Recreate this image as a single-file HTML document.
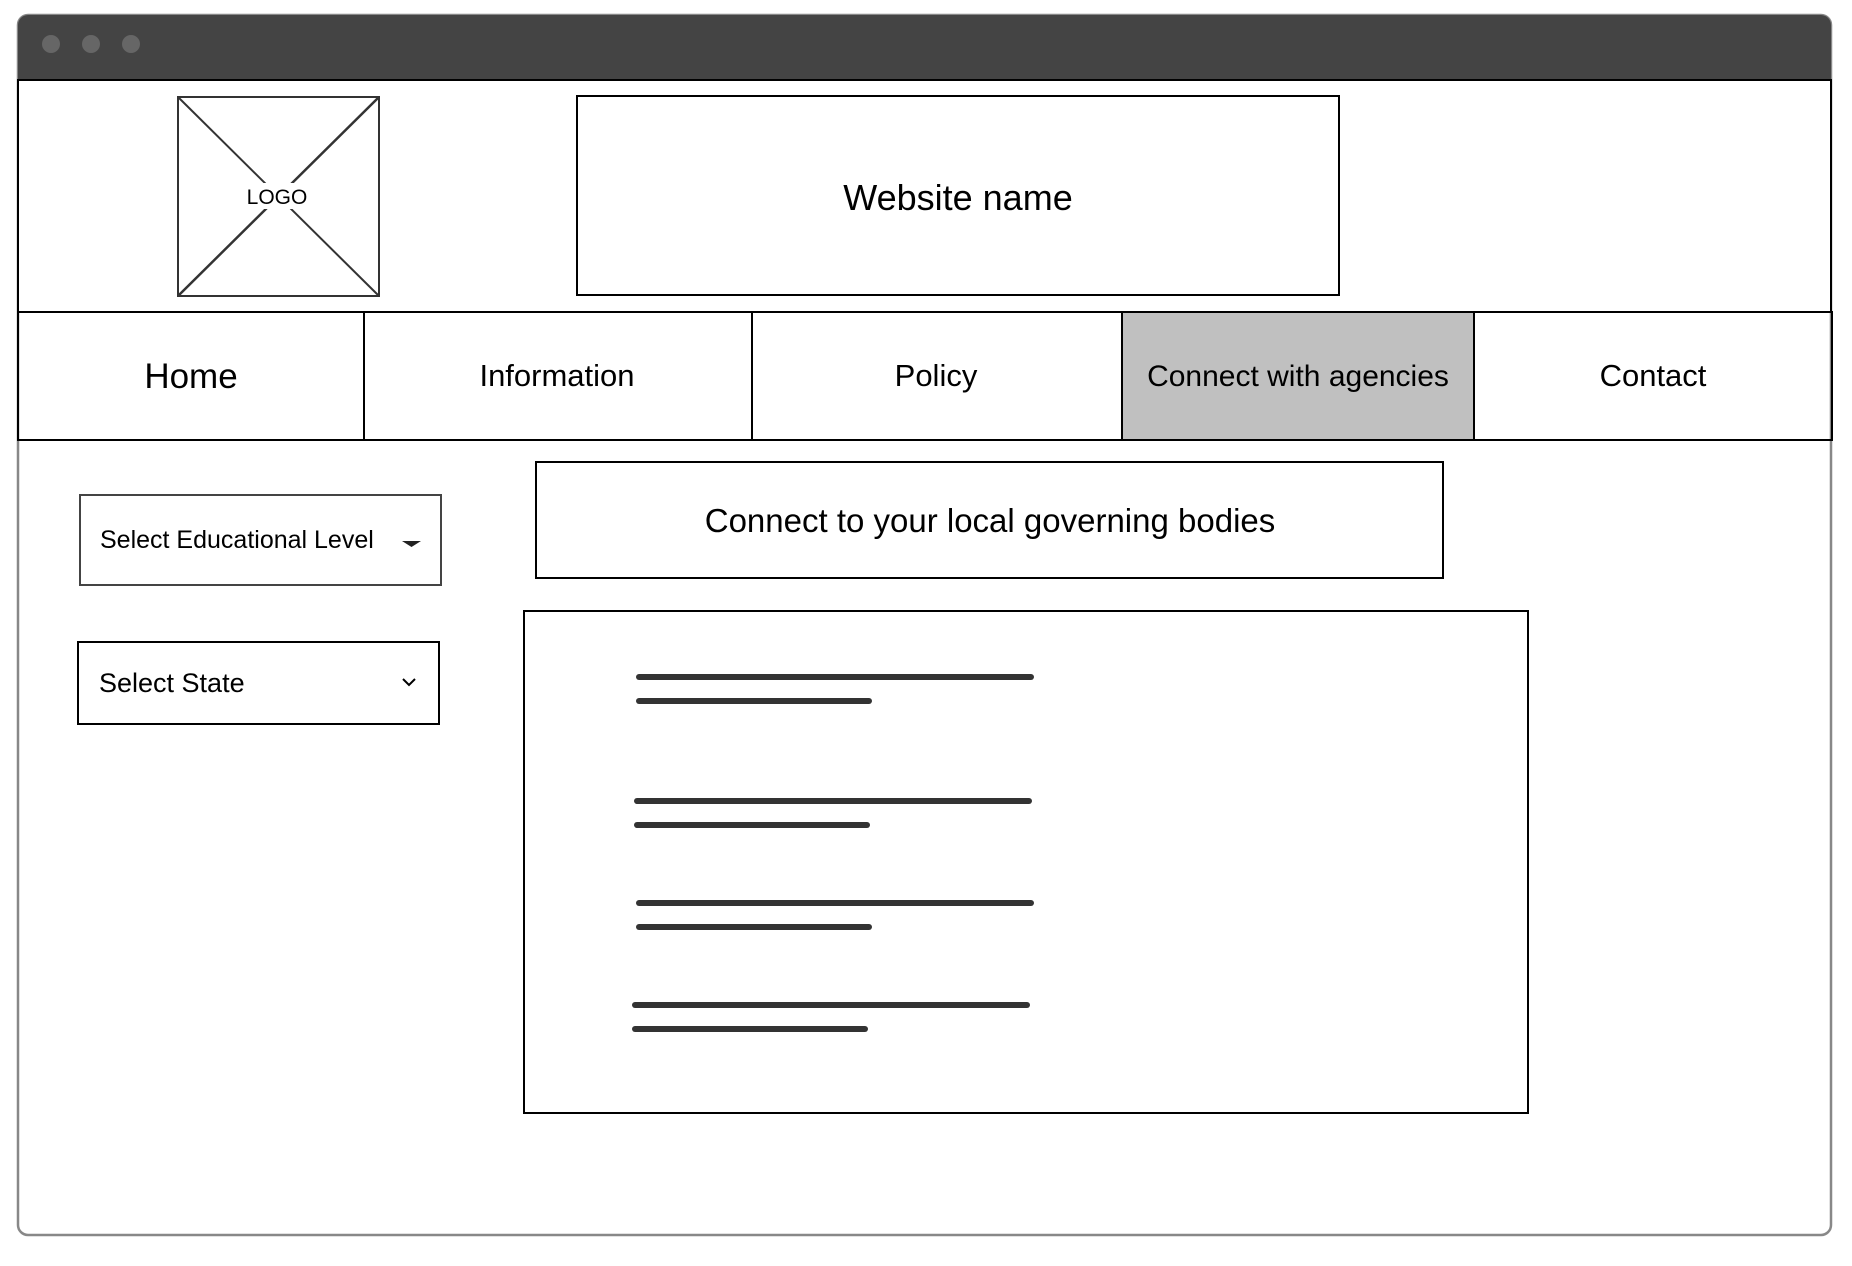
<!DOCTYPE html>
<html><head><meta charset="utf-8"><style>
html,body{margin:0;padding:0;background:#fff;width:1852px;height:1266px;overflow:hidden}
svg{display:block}
text{font-family:"Liberation Sans",sans-serif;fill:#000}
</style></head><body>
<svg width="1852" height="1266" viewBox="0 0 1852 1266" xmlns="http://www.w3.org/2000/svg">
<rect x="18" y="15" width="1813" height="1220" rx="10" fill="#fff" stroke="#888" stroke-width="2.5"/>
<path d="M18 80 V25 a10 10 0 0 1 10 -10 H1821 a10 10 0 0 1 10 10 V80 Z" fill="#444"/>
<circle cx="51" cy="44" r="9" fill="#666"/>
<circle cx="91" cy="44" r="9" fill="#666"/>
<circle cx="131" cy="44" r="9" fill="#666"/>
<rect x="18" y="80" width="1813" height="232" fill="#fff" stroke="#000" stroke-width="2"/>
<rect x="178" y="97" width="201" height="199" fill="none" stroke="#333" stroke-width="2"/>
<line x1="178" y1="97" x2="379" y2="296" stroke="#333" stroke-width="2"/>
<line x1="379" y1="97" x2="178" y2="296" stroke="#333" stroke-width="2.5"/>
<rect x="262" y="183" width="60" height="26" fill="#fff"/>
<text x="277" y="204" font-size="21" text-anchor="middle">LOGO</text>
<rect x="577" y="96" width="762" height="199" fill="#fff" stroke="#000" stroke-width="2"/>
<text x="958" y="210" font-size="36" text-anchor="middle">Website name</text>
<rect x="1122" y="312" width="352" height="128" fill="#c0c0c0"/>
<rect x="18" y="312" width="1814" height="128" fill="none" stroke="#000" stroke-width="2"/>
<line x1="364" y1="312" x2="364" y2="440" stroke="#000" stroke-width="2"/>
<line x1="752" y1="312" x2="752" y2="440" stroke="#000" stroke-width="2"/>
<line x1="1122" y1="312" x2="1122" y2="440" stroke="#000" stroke-width="2"/>
<line x1="1474" y1="312" x2="1474" y2="440" stroke="#000" stroke-width="2"/>
<text x="191" y="388" font-size="35" text-anchor="middle">Home</text>
<text x="557" y="386" font-size="31" text-anchor="middle">Information</text>
<text x="936" y="386" font-size="31" text-anchor="middle">Policy</text>
<text x="1298" y="386" font-size="30" text-anchor="middle">Connect with agencies</text>
<text x="1653" y="386" font-size="31" text-anchor="middle">Contact</text>
<rect x="80" y="495" width="361" height="90" fill="#fff" stroke="#444" stroke-width="2"/>
<text x="100" y="548" font-size="25">Select Educational Level</text>
<path d="M402 541 h19 l-9.5 6 z" fill="#222"/>
<rect x="78" y="642" width="361" height="82" fill="#fff" stroke="#000" stroke-width="2"/>
<text x="99" y="692" font-size="27">Select State</text>
<path d="M403 679 l6 6 l6 -6" fill="none" stroke="#000" stroke-width="2"/>
<rect x="536" y="462" width="907" height="116" fill="#fff" stroke="#000" stroke-width="2"/>
<text x="990" y="532" font-size="33" text-anchor="middle">Connect to your local governing bodies</text>
<rect x="524" y="611" width="1004" height="502" fill="#fff" stroke="#000" stroke-width="2"/>
<g stroke="#333" stroke-width="6" stroke-linecap="round">
<line x1="639" y1="677" x2="1031" y2="677"/>
<line x1="639" y1="701" x2="869" y2="701"/>
<line x1="637" y1="801" x2="1029" y2="801"/>
<line x1="637" y1="825" x2="867" y2="825"/>
<line x1="639" y1="903" x2="1031" y2="903"/>
<line x1="639" y1="927" x2="869" y2="927"/>
<line x1="635" y1="1005" x2="1027" y2="1005"/>
<line x1="635" y1="1029" x2="865" y2="1029"/>
</g>
</svg>
</body></html>
